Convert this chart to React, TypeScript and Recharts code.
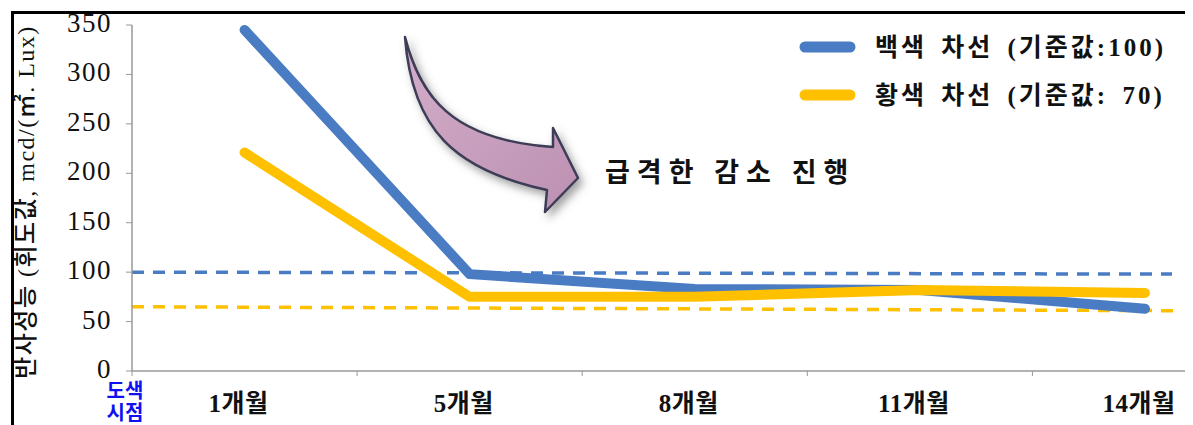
import React from 'react';
import {
  ComposedChart, Line, XAxis, YAxis, ReferenceLine, Customized,
} from 'recharts';

// ---- data ----
const categories = ['1개월', '5개월', '8개월', '11개월', '14개월'];
const whiteLane = [345, 98, 83, 82, 63];
const yellowLane = [221, 75, 75, 82, 79];
const whiteStdLine = [100, 98];   // dashed reference (start, end)
const yellowStdLine = [65, 61];
const stdSpan = [0, 4.62];        // x-extent of the dashed references (in category units)
const yTicks = [0, 50, 100, 150, 200, 250, 300, 350];
const xBoundaries = [0, 1, 2, 3, 4];
const startLabel = ['도색', '시점'];
const seriesNames = ['백색 차선 (기준값:100)', '황색 차선 (기준값: 70)'];
const yAxisTitle = '반사성능 (휘도값, mcd/(㎡. Lux)';
const note = '급격한 감소 진행';

const data = categories.map((c, i) => ({ x: i + 0.5, cat: c, white: whiteLane[i], yellow: yellowLane[i] }));

// ---- styles ----
const W = 1193;
const H = 425;
const M = { top: 25, right: 3, bottom: 0, left: 0 };
const Y_W = 132;
const X_H = 54;
const X_MAX = 4.7;
const BAND = (W - M.left - M.right - Y_W) / X_MAX;
const BLUE = '#4A7CC4';
const YELLOW = '#FFC000';
const FONT = "'Liberation Serif', 'Noto Sans CJK KR', serif";
const KFONT = "'Liberation Serif', 'Noto Sans CJK KR', sans-serif";

const XTick = (props: any) => {
  const { x, y, payload } = props;
  const i = Math.round(payload.value);
  return (
    <g>
      <line x1={x} x2={x} y1={y - 9} y2={y - 4} stroke="#999" strokeWidth={1} />
      {i < categories.length && (
        <text x={x + BAND / 2 - 6} y={y + 32} textAnchor="middle" fontFamily={KFONT} fontSize={25}
          fontWeight="bold" letterSpacing={0.5} fill="#111">
          {categories[i]}
        </text>
      )}
      {i === 0 && (
        <text x={x - 7} y={y + 18} textAnchor="middle" fontFamily={KFONT} fontSize={20} fontWeight="bold" fill="#1010F0">
          <tspan x={x - 7}>{startLabel[0]}</tspan>
          <tspan x={x - 7} dy={22}>{startLabel[1]}</tspan>
        </text>
      )}
    </g>
  );
};

const YTick = (props: any) => {
  const { x, y, payload } = props;
  return (
    <text x={x} y={y + 7} textAnchor="end" fontFamily={FONT} fontSize={27} letterSpacing={1.5} fill="#111">
      {payload.value}
    </text>
  );
};

const Decor = () => (
  <g>
    <defs>
      <linearGradient id="arrowFill" x1="0" y1="0" x2="1" y2="1">
        <stop offset="0%" stopColor="#D3AECA" />
        <stop offset="100%" stopColor="#BC90B1" />
      </linearGradient>
      <filter id="shadow" x="-30%" y="-30%" width="160%" height="160%">
        <feDropShadow dx="4" dy="5" stdDeviation="4" floodColor="#555" floodOpacity="0.55" />
      </filter>
    </defs>
    {/* frame */}
    <rect x={11} y={11} width={3} height={H - 11} fill="#000" />
    <rect x={11} y={11} width={W - 11} height={3} fill="#000" />
    {/* y axis title */}
    <text
      transform="translate(26,202) rotate(-90)"
      textAnchor="middle"
      dominantBaseline="central"
      fontFamily={KFONT}
      fontSize={24}
      fontWeight={500}
      letterSpacing={1.5}
      fill="#111"
    >
      {yAxisTitle}
    </text>
    {/* legend */}
    <g transform="translate(795,30)">
      {[BLUE, YELLOW].map((c, i) => (
        <g key={i}>
          <line x1={10} x2={55} y1={17 + i * 48} y2={17 + i * 48} stroke={c} strokeWidth={11} strokeLinecap="round" />
          <text x={80} y={26 + i * 48} fontFamily={KFONT} fontSize={25} fontWeight="bold" letterSpacing={3}
            wordSpacing={5} fill="#111">
            {seriesNames[i]}
          </text>
        </g>
      ))}
    </g>
    {/* arrow + note */}
    <path
      d="M405,37 C420,95 450,140 553,147 L553,128 L578,178 L545,212 L547,190 C455,170 412,130 405,37 Z"
      fill="url(#arrowFill)"
      stroke="#3C3C58"
      strokeWidth={2.5}
      strokeLinejoin="round"
      filter="url(#shadow)"
    />
    <text x={605} y={182} fontFamily={KFONT} fontSize={27} letterSpacing={7} fontWeight="bold" fill="#111">
      {note}
    </text>
  </g>
);

export default function App() {
  return (
    <div style={{ marginLeft: -8, marginTop: -8, width: W, height: H, background: '#fff' }}>
      <ComposedChart width={W} height={H} data={data} margin={M}>
        <XAxis
          dataKey="x"
          type="number"
          domain={[0, X_MAX]}
          ticks={xBoundaries}
          allowDataOverflow
          tickLine={false}
          tickSize={5}
          tickMargin={4}
          axisLine={{ stroke: '#999', strokeWidth: 1.5 }}
          tick={<XTick />}
          height={X_H}
          interval={0}
        />
        <YAxis
          type="number"
          domain={[0, 350]}
          ticks={yTicks}
          width={Y_W}
          tickSize={6}
          tickMargin={14}
          axisLine={{ stroke: '#999', strokeWidth: 1.5 }}
          tickLine={{ stroke: '#999' }}
          tick={<YTick />}
          interval={0}
        />
        <ReferenceLine
          segment={[{ x: stdSpan[0], y: whiteStdLine[0] }, { x: stdSpan[1], y: whiteStdLine[1] }]}
          stroke={BLUE}
          strokeWidth={3.5}
          strokeDasharray="12 9"
          ifOverflow="visible"
        />
        <ReferenceLine
          segment={[{ x: stdSpan[0], y: yellowStdLine[0] }, { x: stdSpan[1] + 0.02, y: yellowStdLine[1] }]}
          stroke={YELLOW}
          strokeWidth={3.5}
          strokeDasharray="12 9"
          ifOverflow="visible"
        />
        <Line
          dataKey="white"
          name={seriesNames[0]}
          stroke={BLUE}
          strokeWidth={10}
          strokeLinecap="round"
          strokeLinejoin="round"
          dot={false}
          activeDot={false}
          isAnimationActive={false}
        />
        <Line
          dataKey="yellow"
          name={seriesNames[1]}
          stroke={YELLOW}
          strokeWidth={10}
          strokeLinecap="round"
          strokeLinejoin="round"
          dot={false}
          activeDot={false}
          isAnimationActive={false}
        />
        <Customized component={Decor} />
      </ComposedChart>
    </div>
  );
}
